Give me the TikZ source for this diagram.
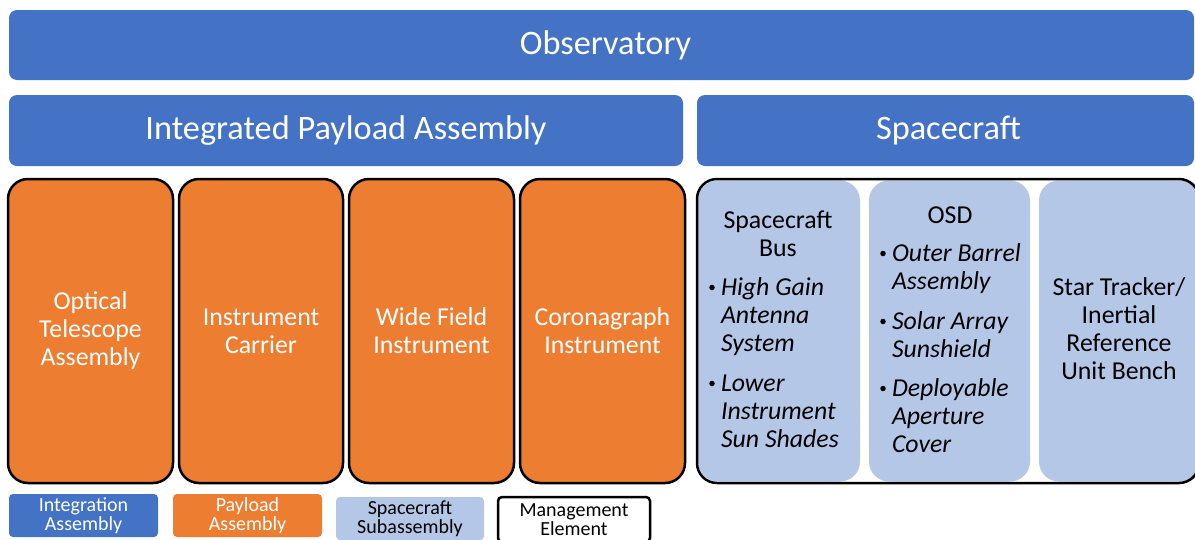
\documentclass[tikz,border=0pt]{standalone}
\usepackage{fontspec}
\setmainfont{Carlito}
\definecolor{iablue}{HTML}{4472C4}
\definecolor{paorange}{HTML}{ED7D31}
\definecolor{sslight}{HTML}{B4C7E7}
\begin{document}
\begin{tikzpicture}[x=1pt,y=-1pt,
  every node/.style={inner sep=0pt, outer sep=0pt},
  hdr/.style={fill=iablue, rounded corners=8pt, text=white, anchor=north west,
    font=\fontsize{34.3}{40}\selectfont},
  pabox/.style={fill=paorange, draw=black, line width=2.5pt, rounded corners=20pt,
    text=white, anchor=north west, align=center, font=\fontsize{25.8}{28}\selectfont},
  sscol/.style={fill=sslight, rounded corners=20pt, anchor=north west},
  sstxt/.style={align=center, font=\fontsize{25.8}{28}\selectfont},
  itemtxt/.style={align=left, anchor=base west, font=\itshape\fontsize{25.8}{28}\selectfont},
  bul/.style={circle, fill=black, minimum size=5.5pt, inner sep=0pt},
  leg/.style={rounded corners=4pt, anchor=north west, align=center,
    font=\fontsize{20}{19.5}\selectfont}
]
\useasboundingbox (0,0) rectangle (1195,539);
\fill[white] (0,0) rectangle (1195,539);

% headers
\node[hdr, minimum width=1185, minimum height=70] (obs) at (9,10) {\hspace*{8pt}Observatory};
\node[hdr, minimum width=674, minimum height=71] (ipa) at (9,95) {Integrated Payload Assembly};
\node[hdr, minimum width=497, minimum height=71] (sc) at (697,95) {\hspace*{6pt}Spacecraft};

% payload boxes
\node[pabox, minimum width=165, minimum height=304] (ota) at (8,179) {Optical\\Telescope\\Assembly};
\node[pabox, minimum width=164, minimum height=304] (ic) at (179,179) {Instrument\\Carrier};
\node[pabox, minimum width=165, minimum height=304] (wfi) at (349,179) {Wide Field\\Instrument};
\node[pabox, minimum width=165, minimum height=304] (cgi) at (520,179) {Coronagraph\\Instrument};

% spacecraft subassemblies
\node[sscol, minimum width=162, minimum height=301] (bus) at (698,180.5) {};
\node[sscol, minimum width=161, minimum height=301] (osd) at (869,180.5) {};
\node[sscol, minimum width=165, minimum height=301] (st) at (1039,180.5) {};
\node[draw=black, line width=2.5pt, rounded corners=20pt, anchor=north west,
  minimum width=502, minimum height=304] (scbox) at (697,179) {};

% Spacecraft Bus text (base = last line baseline)
\node[sstxt, anchor=base] (bust) at (778,256) {Spacecraft\\Bus};
\node[bul] (bb1) at (712,287.5) {};
\node[itemtxt] (bi1) at (721,351) {High Gain\\Antenna\\System};
\node[bul] (bb2) at (712,383.5) {};
\node[itemtxt] (bi2) at (721,447) {Lower\\Instrument\\Sun Shades};

% OSD text
\node[sstxt, anchor=base] (osdt) at (950,223) {OSD};
\node[bul] (ob1) at (883,253.5) {};
\node[itemtxt] (oi1) at (892,289) {Outer Barrel\\Assembly};
\node[bul] (ob2) at (883,321.5) {};
\node[itemtxt] (oi2) at (892,357) {Solar Array\\Sunshield};
\node[bul] (ob3) at (883,388.5) {};
\node[itemtxt] (oi3) at (892,452) {Deployable\\Aperture\\Cover};

% Star tracker text
\node[sstxt, anchor=base] (stt) at (1119,379) {Star Tracker/\\Inertial\\Reference\\Unit Bench};

% legend
\node[leg, fill=iablue, text=white, minimum width=149, minimum height=43] (l1) at (9,494) {Integration\\Assembly};
\node[leg, fill=paorange, text=white, minimum width=149, minimum height=43] (l2) at (173,494) {Payload\\Assembly};
\node[leg, fill=sslight, text=black, minimum width=148, minimum height=43] (l3) at (336,497) {Spacecraft\\Subassembly};
\node[leg, draw=black, line width=2.5pt, fill=white, text=black, minimum width=152, minimum height=45] (l4) at (498,497) {Management\\Element};
\end{tikzpicture}
\end{document}
